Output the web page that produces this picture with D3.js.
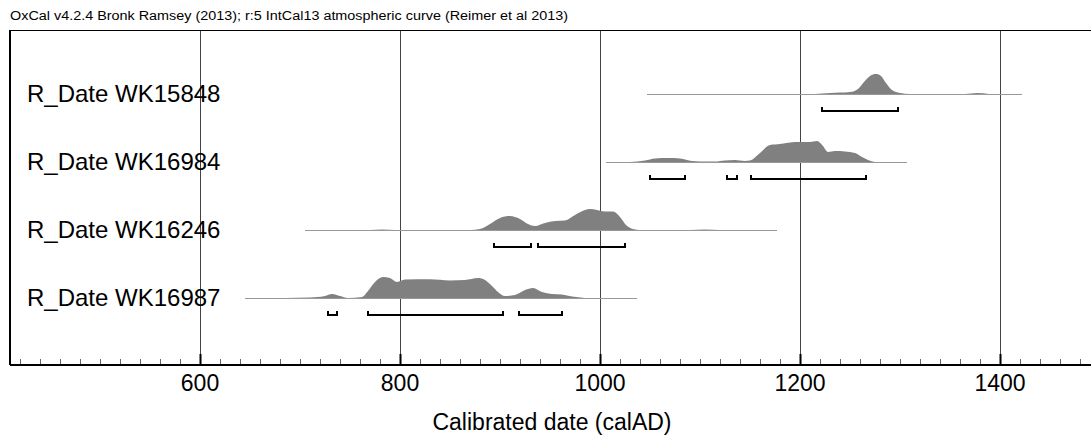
<!DOCTYPE html>
<html>
<head>
<meta charset="utf-8">
<script src="https://cdn.jsdelivr.net/npm/d3@7"></script>
<style>
  body { margin: 0; background: #fff; }
  svg { display: block; }
  text { font-family: "Liberation Sans", Arial, sans-serif; fill: #000; }
</style>
</head>
<body>
<div id="chart"></div>
<script>
"use strict"

//-----------------------------DATA-----------------------------//
const header = "OxCal v4.2.4 Bronk Ramsey (2013); r:5 IntCal13 atmospheric curve (Reimer et al 2013)";
const labels = ["R_Date WK15848", "R_Date WK16984", "R_Date WK16246", "R_Date WK16987"];
const xTicks = [600, 800, 1000, 1200, 1400];
const xTitle = "Calibrated date (calAD)";

// extent of the thin base line for each date
const ranges = [[1047, 1422], [1006, 1307], [705, 1177], [645, 1037]];

// [year, relative probability]
const dens15848 = [[1215,0],[1230,1],[1250,2],[1258,5],[1264,12],[1270,18],[1276,20],[1281,18],[1286,11],[1292,4],[1300,1],[1310,0],
    [1365,0],[1377,1],[1389,0]];
const dens16984 = [[1030,0],[1045,1.5],[1055,3.5],[1068,4],[1080,3.5],[1092,1],[1100,0.5],[1115,0.5],[1125,1.5],[1135,2],
    [1145,1],[1150,1.5],[1160,9],[1170,17],[1180,18],[1190,19.5],[1200,20],[1210,20],[1217,21],[1223,16],[1228,10],
    [1235,11],[1245,10.5],[1255,9],[1262,5],[1268,2],[1275,0]];
const dens16246 = [[770,0],[782,0.6],[795,0],[870,0],[880,1],[890,6],[900,12],[910,14],[920,11],[928,6],[935,4],[945,7],
    [955,9],[965,9.5],[975,15],[985,20],[990,21],[997,20],[1005,18.5],[1013,18.5],[1020,13],[1026,5],[1033,1],[1040,0],
    [1090,0],[1105,0.5],[1120,0]];
const dens16987 = [[685,0],[710,0.5],[725,2],[732,4],[740,2],[748,0],[762,1],[768,7],[775,16],[783,21],[790,20],[797,16],
    [805,18.5],[830,18.7],[850,17.5],[865,18],[878,20],[885,18],[892,12],[898,6],[905,2],[915,3],[925,8],[933,10],
    [942,6],[952,4],[962,3.5],[972,1.5],[985,0]];
const densities = [dens15848, dens16984, dens16246, dens16987];

// 95.4% ranges
const brackets = [
    [[1222, 1298]],
    [[1050, 1085], [1127, 1137], [1151, 1266]],
    [[894, 931], [938, 1025]],
    [[728, 737], [768, 903], [919, 962]]
];

//-----------------------------SVG------------------------------//
const width = 1091;
const height = 440;
const frame = { left: 10, top: 30, bottom: 365 };

const svg = d3.select("#chart").append("svg")
    .attr("width", width)
    .attr("height", height);

//----------------------------SCALES----------------------------//
const xScale = d3.scaleLinear().domain([410, 1491]).range([frame.left, width]);
const rowScale = d3.scalePoint().domain(labels).range([94, 298]);
const hScale = d3.scaleLinear().domain([0, 21]).range([0, 21]);

// header
svg.append("text")
    .attr("x", 10)
    .attr("y", 20)
    .attr("font-size", 12)
    .attr("textLength", 558)
    .attr("lengthAdjust", "spacingAndGlyphs")
    .style("font-family", "'Liberation Sans Narrow', 'Liberation Sans', Arial, sans-serif")
    .text(header);

//-----------------------------GRID-----------------------------//
svg.append("g")
    .selectAll("line")
    .data(xTicks)
    .join("line")
    .attr("x1", d => xScale(d) + 0.5)
    .attr("x2", d => xScale(d) + 0.5)
    .attr("y1", frame.top)
    .attr("y2", frame.bottom)
    .attr("stroke", "#444")
    .attr("stroke-width", 1);

//-----------------------------ROWS-----------------------------//
const area = d3.area()
    .curve(d3.curveMonotoneX)
    .x(d => xScale(d[0]))
    .y0(0)
    .y1(d => -hScale(d[1]));

const rows = svg.append("g")
    .selectAll("g")
    .data(labels)
    .join("g")
    .attr("transform", d => `translate(0,${rowScale(d)})`);

rows.append("line")
    .attr("x1", (d, i) => xScale(ranges[i][0]))
    .attr("x2", (d, i) => xScale(ranges[i][1]))
    .attr("y1", 0.5)
    .attr("y2", 0.5)
    .attr("stroke", "#999")
    .attr("stroke-width", 1);

rows.append("path")
    .attr("d", (d, i) => area(densities[i]))
    .attr("fill", "#808080");

rows.append("g")
    .selectAll("path")
    .data((d, i) => brackets[i])
    .join("path")
    .attr("d", r => `M${xScale(r[0])},13V17H${xScale(r[1])}V13`)
    .attr("fill", "none")
    .attr("stroke", "#000")
    .attr("stroke-width", 2);

rows.append("text")
    .attr("x", 27)
    .attr("y", 8)
    .attr("font-size", 24)
    .text(d => d);

//-----------------------------FRAME----------------------------//
svg.append("line")
    .attr("x1", frame.left).attr("x2", width)
    .attr("y1", frame.top + 0.5).attr("y2", frame.top + 0.5)
    .attr("stroke", "#000");
svg.append("line")
    .attr("x1", frame.left).attr("x2", frame.left)
    .attr("y1", frame.top).attr("y2", frame.bottom)
    .attr("stroke", "#000").attr("stroke-width", 2);

//-----------------------------AXES-----------------------------//
const minor = d3.range(420, 1491, 20).filter(d => !xTicks.includes(d));
svg.append("g")
    .selectAll("line")
    .data(minor)
    .join("line")
    .attr("x1", d => xScale(d) + 0.5)
    .attr("x2", d => xScale(d) + 0.5)
    .attr("y1", frame.bottom - 6)
    .attr("y2", frame.bottom)
    .attr("stroke", "#666");

svg.append("g")
    .selectAll("line")
    .data(xTicks)
    .join("line")
    .attr("x1", d => xScale(d) + 0.5)
    .attr("x2", d => xScale(d) + 0.5)
    .attr("y1", frame.bottom - 11)
    .attr("y2", frame.bottom)
    .attr("stroke", "#000")
    .attr("stroke-width", 2);

svg.append("line")
    .attr("x1", frame.left).attr("x2", width)
    .attr("y1", frame.bottom).attr("y2", frame.bottom)
    .attr("stroke", "#000").attr("stroke-width", 2);

svg.append("g")
    .selectAll("text")
    .data(xTicks)
    .join("text")
    .attr("x", d => xScale(d))
    .attr("y", 391)
    .attr("text-anchor", "middle")
    .attr("font-size", 23)
    .text(d => d);

svg.append("text")
    .attr("x", 552)
    .attr("y", 430)
    .attr("text-anchor", "middle")
    .attr("font-size", 23)
    .text(xTitle);
</script>
</body>
</html>
